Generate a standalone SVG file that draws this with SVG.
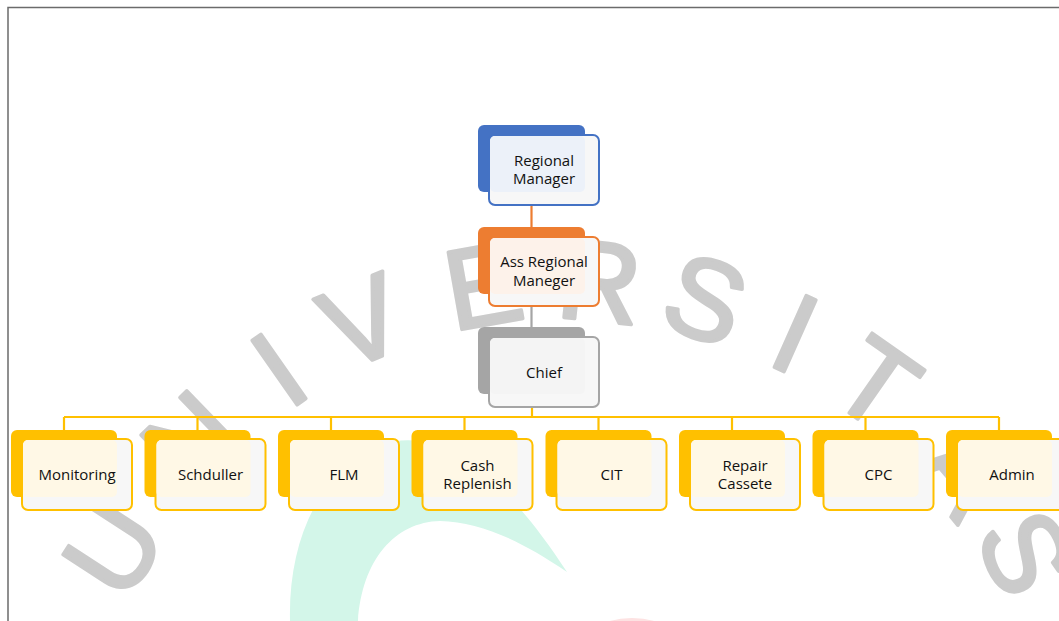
<svg xmlns="http://www.w3.org/2000/svg" width="1059" height="621" viewBox="0 0 1059 621">
<style>
.wm{font-family:"Liberation Sans",Arial,sans-serif;font-size:114px;fill:#CBCBCB;stroke:#CBCBCB;stroke-width:3.5;stroke-linejoin:round;text-anchor:middle}
.lbl{font-family:"Open Sans","Noto Sans",sans-serif;font-size:15px;fill:#111111;text-anchor:middle}
.bk-b{fill:#4472C4}.fr-b{fill:#F7F7F7;stroke:#4472C4;stroke-width:2}.in-b{fill:#ECF1F9}
.bk-o{fill:#ED7D31}.fr-o{fill:#F7F7F7;stroke:#ED7D31;stroke-width:2}.in-o{fill:#FDF2EA}
.bk-g{fill:#A5A5A5}.fr-g{fill:#F7F7F7;stroke:#A5A5A5;stroke-width:2}.in-g{fill:#F4F4F4}
.bk-y{fill:#FFC000}.fr-y{fill:#F7F7F7;stroke:#FFC000;stroke-width:2}.in-y{fill:#FFF8E6}
.cn{fill:none;stroke-width:2.2}
</style>
<rect x="0" y="0" width="1059" height="621" fill="#FFFFFF"/>
<path d="M8,621 V7.5 H1059" fill="none" stroke="#6b6b6b" stroke-width="1.5"/>
<g id="background">
<path d="M290,621 C288,540 320,470 380,445 C440,425 500,470 567,572 C520,540 480,522 440,521 C395,522 362,560 358,621 Z" fill="#D3F6E9"/>
<ellipse cx="632" cy="660" rx="60" ry="42" fill="#FDE2E2"/>
</g>
<g id="watermark">
<text class="wm" x="112" y="589" transform="rotate(-57 112 548)">U</text>
<text class="wm" x="190" y="481" transform="rotate(-44 190 440)">N</text>
<text class="wm" x="278" y="409" transform="rotate(-35 278 368)">I</text>
<text class="wm" x="362" y="361" transform="rotate(-22 362 320)">V</text>
<text class="wm" x="483" y="325" transform="rotate(-10 483 284)">E</text>
<text class="wm" x="600" y="321" transform="rotate(6 600 280)">R</text>
<text class="wm" x="706" y="339" transform="rotate(20 706 298)">S</text>
<text class="wm" x="796" y="373" transform="rotate(24 796 332)">I</text>
<text class="wm" x="877" y="423.5" transform="rotate(35 877 382.5)">T</text>
<text class="wm" x="965" y="511" transform="rotate(50 965 470)">A</text>
<text class="wm" x="1027" y="593" transform="rotate(65 1027 552)">S</text>
</g>
<g id="connectors">
<path class="cn" d="M531.5,192 V237" stroke="#ED7D31"/>
<path class="cn" d="M531.5,293 V337" stroke="#A5A5A5"/>
<path class="cn" d="M532,394 V417 M64,417 H999 M64,417 V430 M197.5,417 V430 M331,417 V430 M464.5,417 V430 M598.5,417 V430 M732,417 V430 M865.5,417 V430 M999,417 V430" stroke="#FFC000"/>
</g>
<g id="regional-manager">
<rect class="bk-b" x="478" y="125" width="107" height="67" rx="6"/>
<rect class="fr-b" x="489" y="135" width="110" height="70" rx="6"/>
<rect class="in-b" x="490" y="136" width="95" height="56" rx="5"/>
<text class="lbl" x="544" y="165.5">Regional</text>
<text class="lbl" x="544" y="184">Manager</text>
</g>
<g id="ass-regional-maneger">
<rect class="bk-o" x="478" y="227" width="107" height="67" rx="6"/>
<rect class="fr-o" x="489" y="237" width="110" height="69" rx="6"/>
<rect class="in-o" x="490" y="238" width="95" height="56" rx="5"/>
<text class="lbl" x="544" y="267">Ass Regional</text>
<text class="lbl" x="544" y="285.5">Maneger</text>
</g>
<g id="chief">
<rect class="bk-g" x="478" y="327" width="107" height="67" rx="6"/>
<rect class="fr-g" x="489" y="337" width="110" height="70" rx="6"/>
<rect class="in-g" x="490" y="338" width="95" height="56" rx="5"/>
<text class="lbl" x="544" y="378">Chief</text>
</g>
<g id="monitoring">
<rect class="bk-y" x="11" y="430" width="106" height="67" rx="6"/>
<rect class="fr-y" x="22" y="439" width="110" height="71" rx="6"/>
<rect class="in-y" x="23" y="440" width="94" height="57" rx="5"/>
<text class="lbl" x="77" y="480">Monitoring</text>
</g>
<g id="schduller">
<rect class="bk-y" x="144.5" y="430" width="106" height="67" rx="6"/>
<rect class="fr-y" x="155.5" y="439" width="110" height="71" rx="6"/>
<rect class="in-y" x="156.5" y="440" width="94" height="57" rx="5"/>
<text class="lbl" x="210.5" y="480">Schduller</text>
</g>
<g id="flm">
<rect class="bk-y" x="278" y="430" width="106" height="67" rx="6"/>
<rect class="fr-y" x="289" y="439" width="110" height="71" rx="6"/>
<rect class="in-y" x="290" y="440" width="94" height="57" rx="5"/>
<text class="lbl" x="344" y="480">FLM</text>
</g>
<g id="cash-replenish">
<rect class="bk-y" x="411.5" y="430" width="106" height="67" rx="6"/>
<rect class="fr-y" x="422.5" y="439" width="110" height="71" rx="6"/>
<rect class="in-y" x="423.5" y="440" width="94" height="57" rx="5"/>
<text class="lbl" x="477.5" y="470.5">Cash</text>
<text class="lbl" x="477.5" y="489">Replenish</text>
</g>
<g id="cit">
<rect class="bk-y" x="545.5" y="430" width="106" height="67" rx="6"/>
<rect class="fr-y" x="556.5" y="439" width="110" height="71" rx="6"/>
<rect class="in-y" x="557.5" y="440" width="94" height="57" rx="5"/>
<text class="lbl" x="611.5" y="480">CIT</text>
</g>
<g id="repair-cassete">
<rect class="bk-y" x="679" y="430" width="106" height="67" rx="6"/>
<rect class="fr-y" x="690" y="439" width="110" height="71" rx="6"/>
<rect class="in-y" x="691" y="440" width="94" height="57" rx="5"/>
<text class="lbl" x="745" y="470.5">Repair</text>
<text class="lbl" x="745" y="489">Cassete</text>
</g>
<g id="cpc">
<rect class="bk-y" x="812.5" y="430" width="106" height="67" rx="6"/>
<rect class="fr-y" x="823.5" y="439" width="110" height="71" rx="6"/>
<rect class="in-y" x="824.5" y="440" width="94" height="57" rx="5"/>
<text class="lbl" x="878.5" y="480">CPC</text>
</g>
<g id="admin">
<rect class="bk-y" x="946" y="430" width="106" height="67" rx="6"/>
<rect class="fr-y" x="957" y="439" width="110" height="71" rx="6"/>
<rect class="in-y" x="958" y="440" width="94" height="57" rx="5"/>
<text class="lbl" x="1012" y="480">Admin</text>
</g>
</svg>
